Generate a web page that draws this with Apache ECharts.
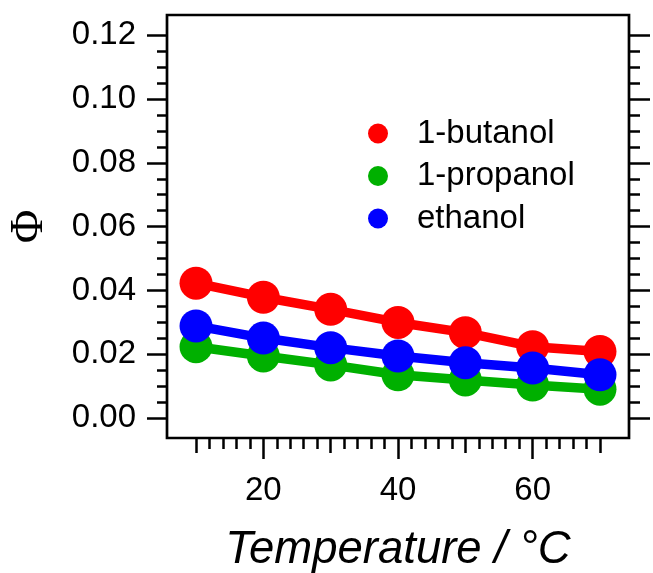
<!DOCTYPE html>
<html>
<head>
<meta charset="utf-8">
<script src="https://cdn.jsdelivr.net/npm/echarts@6/dist/echarts.min.js"></script>
<style>
  html, body { margin: 0; padding: 0; background: #fff; }
  #chart { width: 653px; height: 573px; }
</style>
</head>
<body>
<div id="chart"></div>
<script>
// Quantum yield Φ versus temperature for three alcohols
const temperatures = [10, 20, 30, 40, 50, 60, 70];
const butanol  = [0.0423, 0.0379, 0.0341, 0.0300, 0.0268, 0.0224, 0.0209];
const propanol = [0.0224, 0.0195, 0.0167, 0.0136, 0.0120, 0.0104, 0.0091];
const ethanol  = [0.0289, 0.0251, 0.0221, 0.0195, 0.0174, 0.0157, 0.0136];

const seriesNames = ['1-butanol', '1-propanol', 'ethanol'];
const seriesColors = ['#ff0000', '#00b000', '#0000ff'];

// Tick values
const xMajorTicks = [20, 40, 60];
const xMidTicks = [10, 30, 50, 70];
const xMinorTicks = [];
for (let t = 10; t <= 70; t += 2) xMinorTicks.push(t);
const yMajorTicks = [0, 0.02, 0.04, 0.06, 0.08, 0.10, 0.12];
const yMinorTicks = [];
for (let i = 0; i <= 24; i++) yMinorTicks.push(+(i * 0.005).toFixed(3));

// Axis extents (ticks occupy 10..70 and 0..0.12 with padding to the frame)
const X_MIN = 5.69, X_MAX = 74.31;
const Y_MIN = -0.0062, Y_MAX = 0.1263;

const FONT = 'Liberation Sans, Arial, sans-serif';
const gridBox = { left: 167, top: 15, width: 462, height: 423, outerBoundsMode: 'none', containLabel: false };

function pairs(values) {
  return temperatures.map((t, i) => [t, values[i]]);
}

function tickAxis(gridIndex, values, length, extra) {
  return Object.assign({
    type: 'value', gridIndex: gridIndex,
    axisLine: { show: false, onZero: false },
    splitLine: { show: false },
    axisTick: { show: true, customValues: values, length: length,
                lineStyle: { color: '#000', width: 2.5 } },
    axisLabel: { show: false }
  }, extra);
}

const chart = echarts.init(document.getElementById('chart'), null, { renderer: 'canvas' });

chart.setOption({
  animation: false,
  backgroundColor: '#fff',
  grid: [
    Object.assign({ show: true, borderColor: '#000', borderWidth: 2.7, backgroundColor: 'transparent' }, gridBox),
    Object.assign({ show: false }, gridBox),
    Object.assign({ show: false }, gridBox)
  ],
  xAxis: [
    tickAxis(0, xMajorTicks, 21, {
      min: X_MIN, max: X_MAX, position: 'bottom',
      axisLabel: { show: true, customValues: xMajorTicks, fontSize: 33, fontFamily: FONT,
                   color: '#000', margin: 36 },
      name: 'Temperature / °C', nameLocation: 'middle', nameGap: 89,
      nameTextStyle: { fontSize: 45.5, fontStyle: 'italic', fontFamily: FONT, color: '#000' }
    }),
    tickAxis(1, xMidTicks, 15, { min: X_MIN, max: X_MAX, position: 'bottom' }),
    tickAxis(2, xMinorTicks, 11, { min: X_MIN, max: X_MAX, position: 'bottom' })
  ],
  yAxis: [
    tickAxis(0, yMajorTicks, 20, {
      min: Y_MIN, max: Y_MAX, position: 'left',
      axisLabel: { show: true, customValues: yMajorTicks, fontSize: 33, fontFamily: FONT,
                   color: '#000', margin: 31, formatter: v => v.toFixed(2) },
      name: 'Φ', nameLocation: 'middle', nameGap: 114,
      nameTextStyle: { fontSize: 46, fontFamily: 'Liberation Serif, Times New Roman, serif', color: '#000' }
    }),
    tickAxis(0, yMajorTicks, 21, { min: Y_MIN, max: Y_MAX, position: 'right' }),
    tickAxis(1, yMinorTicks, 10, { min: Y_MIN, max: Y_MAX, position: 'left' }),
    tickAxis(1, yMinorTicks, 11, { min: Y_MIN, max: Y_MAX, position: 'right' }),
    tickAxis(2, [], 0, { min: Y_MIN, max: Y_MAX, position: 'left', axisTick: { show: false } })
  ],
  legend: {
    orient: 'vertical',
    left: 363, top: 112,
    icon: 'circle',
    itemWidth: 68, itemHeight: 20, itemGap: 9.5,
    itemStyle: { borderWidth: 0 },
    textStyle: { fontSize: 33, fontFamily: FONT, color: '#000' },
    data: seriesNames
  },
  series: [butanol, propanol, ethanol].map((vals, i) => ({
    name: seriesNames[i],
    type: 'line',
    xAxisIndex: 0, yAxisIndex: 0,
    data: pairs(vals),
    symbol: 'circle', symbolSize: 33,
    color: seriesColors[i],
    itemStyle: { color: seriesColors[i], borderWidth: 0 },
    lineStyle: { color: seriesColors[i], width: 9.5 },
    emphasis: { disabled: true }
  }))
});
</script>
</body>
</html>
